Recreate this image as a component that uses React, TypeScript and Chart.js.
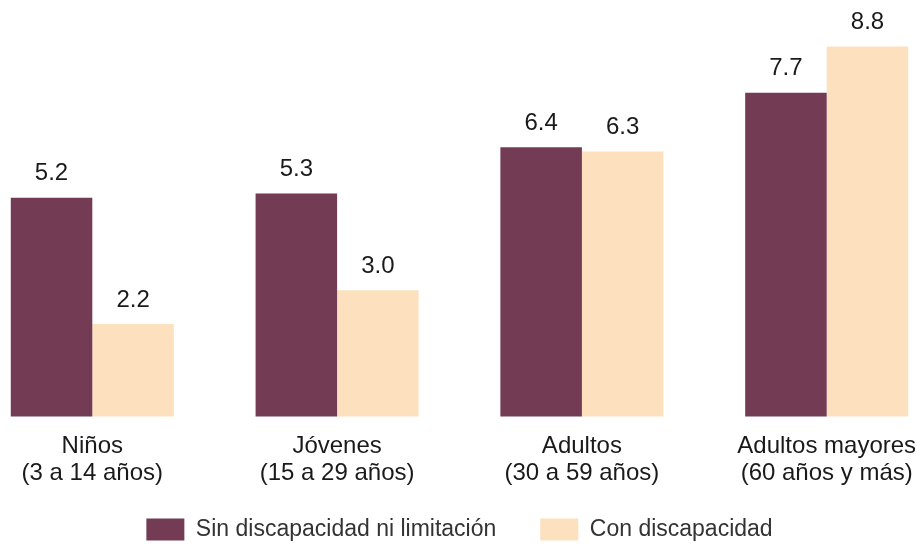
import React, { useEffect, useRef } from 'react';
import { Chart, registerables } from 'chart.js';

Chart.register(...registerables);

const categories: string[][] = [
  ['Niños', '(3 a 14 años)'],
  ['Jóvenes', '(15 a 29 años)'],
  ['Adultos', '(30 a 59 años)'],
  ['Adultos mayores', '(60 años y más)'],
];
const seriesNames = ['Sin discapacidad ni limitación', 'Con discapacidad'];
const sinDiscapacidad = [5.2, 5.3, 6.4, 7.7];
const conDiscapacidad = [2.2, 3.0, 6.3, 8.8];
const yMin = 0;
const yMax = 9.5;

const FONT = '"Liberation Sans", Arial, sans-serif';

const valueLabels = {
  id: 'valueLabels',
  afterDatasetsDraw(chart: any) {
    const ctx = chart.ctx;
    ctx.save();
    ctx.font = `24px ${FONT}`;
    ctx.fillStyle = '#1a1a1a';
    ctx.textAlign = 'center';
    ctx.textBaseline = 'middle';
    chart.data.datasets.forEach((ds: any, i: number) => {
      chart.getDatasetMeta(i).data.forEach((bar: any, j: number) => {
        ctx.fillText(Number(ds.data[j]).toFixed(1), bar.x, bar.y - 24);
      });
    });
    ctx.restore();
  },
};

const legendShift = {
  id: 'legendShift',
  afterLayout(chart: any) {
    const lg = chart.legend;
    if (!lg) return;
    const h = lg.height;
    lg.top = 466;
    lg.bottom = lg.top + h;
  },
};

export default function App() {
  const ref = useRef<HTMLCanvasElement>(null);
  useEffect(() => {
    if (!ref.current) return;
    const chart = new Chart(ref.current, {
      type: 'bar',
      data: {
        labels: categories,
        datasets: [
          {
            label: seriesNames[0],
            data: sinDiscapacidad,
            backgroundColor: '#733B54',
            borderWidth: 0,
            clip: false as any,
            categoryPercentage: 0.666,
            barPercentage: 1,
          },
          {
            label: seriesNames[1],
            data: conDiscapacidad,
            backgroundColor: '#FDE0BD',
            borderWidth: 0,
            clip: false as any,
            categoryPercentage: 0.666,
            barPercentage: 1,
          },
        ],
      },
      options: {
        animation: false,
        responsive: true,
        maintainAspectRatio: false,
        layout: { padding: { top: 9, left: 84.3, right: 91.3, bottom: -35.5 } },
        scales: {
          x: {
            offset: false,
            grid: { display: false, drawTicks: false },
            border: { display: false },
            ticks: {
              color: '#1a1a1a',
              font: { size: 24, family: FONT, lineHeight: 27 / 24 },
              padding: 16,
              maxRotation: 0,
              autoSkip: false,
            },
            afterFit: (scale: any) => {
              scale.paddingLeft = 0;
              scale.paddingRight = 0;
            },
          },
          y: {
            display: false,
            min: yMin,
            max: yMax,
          },
        },
        plugins: {
          tooltip: { enabled: false },
          legend: {
            position: 'bottom',
            labels: {
              boxWidth: 38,
              boxHeight: 22,
              padding: 44,
              color: '#333333',
              font: { size: 23, family: FONT },
            },
          },
        },
      },
      plugins: [valueLabels, legendShift],
    });
    return () => chart.destroy();
  }, []);
  return (
    <div style={{ position: 'absolute', top: 8, left: 8, width: 910, height: 536 }}>
      <canvas ref={ref} />
    </div>
  );
}
